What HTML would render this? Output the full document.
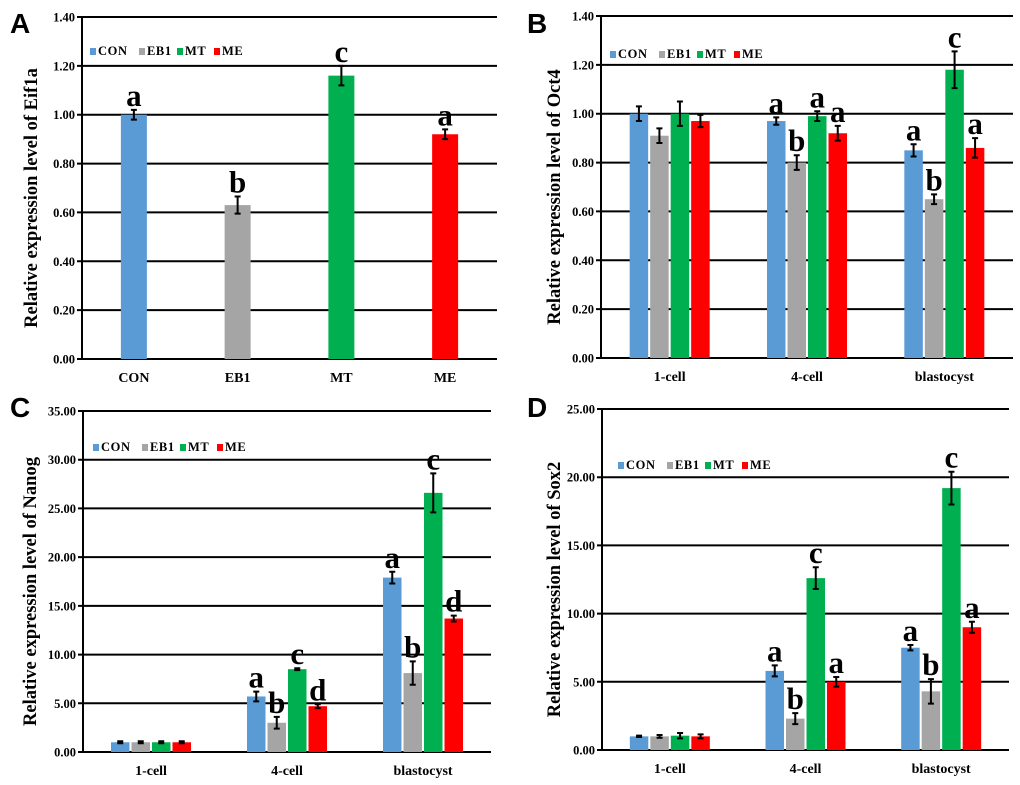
<!DOCTYPE html>
<html><head><meta charset="utf-8">
<style>
html,body{margin:0;padding:0;background:#fff;}
svg{display:block;}
text{font-family:"Liberation Serif",serif;font-weight:bold;}
.pl{font-family:"Liberation Sans",sans-serif;font-size:28px;}
</style></head>
<body>
<svg id="fig" width="1020" height="785" viewBox="0 0 1020 785" xmlns="http://www.w3.org/2000/svg"></svg>
<script>
const seriesNames = ["CON","EB1","MT","ME"];
const seriesColors = ["#5b9bd5","#a5a5a5","#00b050","#ff0000"];

const catsA = ["CON","EB1","MT","ME"];
const valsA = [1.00,0.63,1.16,0.92];
const errA = [0.02,0.035,0.04,0.02];
const letA = ["a","b","c","a"];
const ticksA = ["0.00","0.20","0.40","0.60","0.80","1.00","1.20","1.40"];

const catsB = ["1-cell","4-cell","blastocyst"];
const conB = [1.00,0.97,0.85];
const eb1B = [0.91,0.80,0.65];
const mtB = [1.00,0.99,1.18];
const meB = [0.97,0.92,0.86];
const errConB = [0.03,0.015,0.025];
const errEb1B = [0.03,0.03,0.02];
const errMtB = [0.05,0.02,0.075];
const errMeB = [0.025,0.03,0.04];
const letB = [["","","",""],["a","b","a","a"],["a","b","c","a"]];
const ticksB = ["0.00","0.20","0.40","0.60","0.80","1.00","1.20","1.40"];

const catsC = ["1-cell","4-cell","blastocyst"];
const conC = [1.0,5.7,17.9];
const eb1C = [1.0,3.0,8.1];
const mtC = [1.0,8.5,26.6];
const meC = [1.0,4.7,13.7];
const errConC = [0.1,0.5,0.6];
const errEb1C = [0.1,0.6,1.2];
const errMtC = [0.1,0.1,2.0];
const errMeC = [0.1,0.2,0.3];
const letC = [["","","",""],["a","b","c","d"],["a","b","c","d"]];
const ticksC = ["0.00","5.00","10.00","15.00","20.00","25.00","30.00","35.00"];

const catsD = ["1-cell","4-cell","blastocyst"];
const conD = [1.0,5.8,7.5];
const eb1D = [1.0,2.3,4.3];
const mtD = [1.05,12.6,19.2];
const meD = [1.0,5.0,9.0];
const errConD = [0.05,0.4,0.2];
const errEb1D = [0.1,0.4,0.9];
const errMtD = [0.2,0.8,1.2];
const errMeD = [0.15,0.35,0.4];
const letD = [["","","",""],["a","b","c","a"],["a","b","c","a"]];
const ticksD = ["0.00","5.00","10.00","15.00","20.00","25.00"];

const NS = "http://www.w3.org/2000/svg";
const svg = document.getElementById("fig");
function mk(tag, attrs, parent, txt){
  const e = document.createElementNS(NS, tag);
  for (const k in attrs) e.setAttribute(k, attrs[k]);
  if (txt !== undefined) e.textContent = txt;
  (parent||svg).appendChild(e);
  return e;
}

function panel(p){
  const g = mk("g", {});
  
  
  const y = v => p.y0 - (v / p.ymax) * (p.y0 - p.ytop);
  const catW = (p.x1 - p.x0) / p.cats.length;
  p.ticks.forEach((t) => {
    const v = parseFloat(t);
    const yy = y(v);
    const gl = mk("line", {x1:p.x0-5, x2:p.x1, y1:yy, y2:yy, stroke:"#000", "stroke-width":2}, g);
    
    
    const tl = mk("text", {x:p.x0-7, y:yy+4.5, "text-anchor":"end", "font-size":12.5}, g, t);
    
    
  });
  const ax = mk("line", {x1:p.x0, x2:p.x0, y1:p.ytop-1, y2:p.y0+1, stroke:"#000", "stroke-width":2}, g);
  
  
  const ns = p.series.length;
  p.cats.forEach((c, ci) => {
    const cx = p.x0 + catW * (ci + 0.5);
    for (let si = 0; si < ns; si++) {
      const v = p.series[si][ci];
      const e = p.errs[si][ci];
      const bx = p.single ? cx - p.bw/2 : cx - (ns*p.bw + (ns-1)*p.gap)/2 + si*(p.bw+p.gap);
      const color = p.single ? seriesColors[ci] : seriesColors[si];
      const r = mk("rect", {x:bx, y:y(v), width:p.bw, height:p.y0 - y(v), fill:color}, g);
      
      
      const mx = bx + p.bw/2;
      const eb = mk("path", {d:`M${mx-3},${y(v+e)}H${mx+3}M${mx},${y(v+e)}V${y(v-e)}M${mx-3},${y(v-e)}H${mx+3}`, stroke:"#000", "stroke-width":2, fill:"none"}, g);
      
      
      const L = p.letters[ci][si];
      if (L) {
        const lt = mk("text", {x:mx, y:y(v+e)-4, "text-anchor":"middle", "font-size":31}, g, L);
        
        
      }
    }
    const xl = mk("text", {x:cx, y:p.y0+23, "text-anchor":"middle", "font-size":14}, g, c);
    
    
  });
  const ty = (p.ytop + p.y0)/2 + 10;
  const at = mk("text", {x:0, y:0, transform:`translate(${p.titleX},${ty}) rotate(-90)`, "text-anchor":"middle", "font-size":18.5}, g, p.title);
  
  
  const lg = mk("g", {}, g);
  
  
  let lx = p.legX;
  const legGap = [49, 38, 37, 0];
  seriesNames.forEach((n, i) => {
    const sw = mk("rect", {x:lx, y:p.legY-7, width:6, height:7, fill:seriesColors[i]}, lg);
    
    
    const lt = mk("text", {x:lx+8, y:p.legY, "font-size":12.5, "letter-spacing":"0.6"}, lg, n);
    
    
    lx += legGap[i];
  });
  const pl = mk("text", {x:p.plX, y:p.plY, "class":"pl"}, g, p.label);
  
  
}

panel({label:"A", x0:82, x1:497, ytop:17, y0:359, ymax:1.4, ticks:ticksA, cats:catsA,
  series:[valsA], errs:[errA], letters:letA.map(l=>[l]), single:true, bw:26, gap:0,
  title:"Relative expression level of Eif1a", titleX:37, legX:90, legY:55, plX:10, plY:33});
panel({label:"B", x0:601, x1:1013, ytop:16, y0:358, ymax:1.4, ticks:ticksB, cats:catsB,
  series:[conB,eb1B,mtB,meB], errs:[errConB,errEb1B,errMtB,errMeB], letters:letB, bw:18.5, gap:2,
  title:"Relative expression level of Oct4", titleX:560, legX:610, legY:58, plX:527, plY:33});
panel({label:"C", x0:83, x1:491, ytop:411, y0:752, ymax:35, ticks:ticksC, cats:catsC,
  series:[conC,eb1C,mtC,meC], errs:[errConC,errEb1C,errMtC,errMeC], letters:letC, bw:18.5, gap:2,
  title:"Relative expression level of Nanog", titleX:36, legX:93, legY:451, plX:10, plY:417});
panel({label:"D", x0:602, x1:1009, ytop:409, y0:750, ymax:25, ticks:ticksD, cats:catsD,
  series:[conD,eb1D,mtD,meD], errs:[errConD,errEb1D,errMtD,errMeD], letters:letD, bw:18.5, gap:2,
  title:"Relative expression level of Sox2", titleX:560, legX:618, legY:469, plX:527, plY:417});
</script>
</body></html>
